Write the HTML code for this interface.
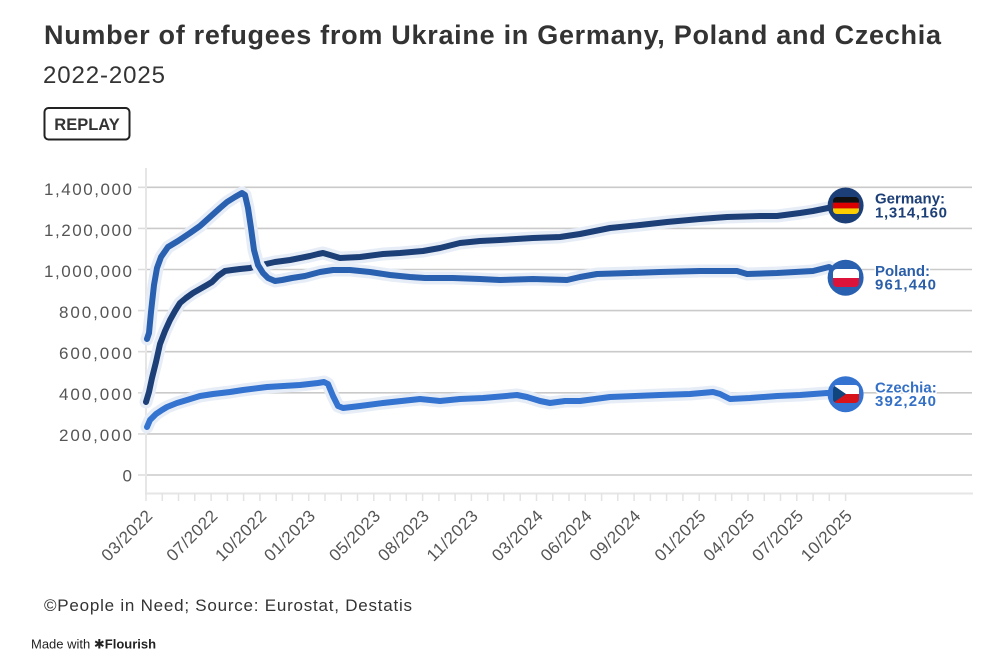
<!DOCTYPE html>
<html><head><meta charset="utf-8"><style>
html,body{margin:0;padding:0;background:#fff;}
svg{display:block;font-family:"Liberation Sans",sans-serif;}
</style></head><body>
<svg width="998" height="655" viewBox="0 0 998 655" xmlns="http://www.w3.org/2000/svg">
<defs>
<clipPath id="cg"><rect x="833" y="197" width="26" height="17" rx="4"/></clipPath>
<clipPath id="cp"><rect x="833" y="269" width="26" height="18" rx="4"/></clipPath>
<clipPath id="cc"><rect x="833" y="385" width="26" height="18" rx="4"/></clipPath>
</defs>
<!-- Title -->
<text x="44" y="44" font-size="27" font-weight="bold" fill="#333" textLength="897" lengthAdjust="spacing">Number of refugees from Ukraine in Germany, Poland and Czechia</text>
<text x="43" y="83" font-size="24" fill="#333" textLength="122" lengthAdjust="spacing">2022-2025</text>
<rect x="44.5" y="108" width="85" height="31.5" rx="4" fill="#fff" stroke="#222" stroke-width="2"/>
<text x="87" y="130" font-size="16.5" font-weight="bold" fill="#333" text-anchor="middle">REPLAY</text>

<!-- grid -->
<g stroke="#dcdcdc" stroke-width="1.6">
<path d="M138,187.3H146M138,228.4H146M138,269.5H146M138,310.6H146M138,351.7H146M138,392.8H146M138,433.9H146M138,475H146"/>
</g>
<g stroke="#cacaca" stroke-width="1.6">
<path d="M146,187.3H972M146,228.4H972M146,269.5H972M146,310.6H972M146,351.7H972M146,392.8H972M146,433.9H972M146,475H972"/>
</g>
<line x1="146" y1="168" x2="146" y2="494" stroke="#e6e6e6" stroke-width="2"/>
<line x1="145" y1="493.5" x2="973" y2="493.5" stroke="#e6e6e6" stroke-width="2"/>
<path stroke="#e3e3e3" stroke-width="1.5" d="M146,493V501M162.3,493V501M178.5,493V501M194.8,493V501M211.1,493V501M227.4,493V501M243.6,493V501M259.9,493V501M276.2,493V501M292.4,493V501M308.7,493V501M325,493V501M341.2,493V501M357.5,493V501M373.8,493V501M390.1,493V501M406.3,493V501M422.6,493V501M438.9,493V501M455.1,493V501M471.4,493V501M487.7,493V501M503.9,493V501M520.2,493V501M536.5,493V501M552.8,493V501M569,493V501M585.3,493V501M601.6,493V501M617.8,493V501M634.1,493V501M650.4,493V501M666.6,493V501M682.9,493V501M699.2,493V501M715.5,493V501M731.7,493V501M748,493V501M764.3,493V501M780.5,493V501M796.8,493V501M813.1,493V501M829.3,493V501M845.6,493V501"/>

<!-- y labels -->
<g font-size="17" fill="#555" text-anchor="end">
<text x="132" y="195" textLength="88" lengthAdjust="spacing">1,400,000</text>
<text x="132" y="236" textLength="88" lengthAdjust="spacing">1,200,000</text>
<text x="132" y="277" textLength="88" lengthAdjust="spacing">1,000,000</text>
<text x="132" y="318" textLength="73" lengthAdjust="spacing">800,000</text>
<text x="132" y="359" textLength="73" lengthAdjust="spacing">600,000</text>
<text x="132" y="400" textLength="73" lengthAdjust="spacing">400,000</text>
<text x="132" y="441" textLength="73" lengthAdjust="spacing">200,000</text>
<text x="132" y="481.5">0</text>
</g>

<!-- x labels -->
<g font-size="17" fill="#555" text-anchor="end">
<text transform="translate(153.5,517) rotate(-45)" textLength="64" lengthAdjust="spacing">03/2022</text>
<text transform="translate(218.6,517) rotate(-45)" textLength="64" lengthAdjust="spacing">07/2022</text>
<text transform="translate(267.4,517) rotate(-45)" textLength="64" lengthAdjust="spacing">10/2022</text>
<text transform="translate(316.2,517) rotate(-45)" textLength="64" lengthAdjust="spacing">01/2023</text>
<text transform="translate(381.3,517) rotate(-45)" textLength="64" lengthAdjust="spacing">05/2023</text>
<text transform="translate(430.1,517) rotate(-45)" textLength="64" lengthAdjust="spacing">08/2023</text>
<text transform="translate(478.9,517) rotate(-45)" textLength="64" lengthAdjust="spacing">11/2023</text>
<text transform="translate(544,517) rotate(-45)" textLength="64" lengthAdjust="spacing">03/2024</text>
<text transform="translate(592.8,517) rotate(-45)" textLength="64" lengthAdjust="spacing">06/2024</text>
<text transform="translate(641.6,517) rotate(-45)" textLength="64" lengthAdjust="spacing">09/2024</text>
<text transform="translate(706.7,517) rotate(-45)" textLength="64" lengthAdjust="spacing">01/2025</text>
<text transform="translate(755.5,517) rotate(-45)" textLength="64" lengthAdjust="spacing">04/2025</text>
<text transform="translate(804.3,517) rotate(-45)" textLength="64" lengthAdjust="spacing">07/2025</text>
<text transform="translate(853.1,517) rotate(-45)" textLength="64" lengthAdjust="spacing">10/2025</text>
</g>

<!-- series -->
<g fill="none" stroke-linejoin="round" stroke-linecap="round">
<path stroke="#e7edf7" stroke-width="13" d="M146,402 L149,392 L152,378 L156,362 L160,344 L165,331 L170,320 L175,311 L180,303 L186,298 L193,293 L200,289 L207,285 L212,282 L218,276 L225,271 L232,270 L240,269 L250,268 L257,266 L275,262 L290,260 L310,256 L318,254 L323,253 L330,255 L340,258 L360,257 L383,254 L400,253 L423,251 L440,248 L460,243 L480,241 L500,240 L533,238 L560,237 L580,234 L610,228 L640,225 L667,222 L700,219 L727,217 L760,216 L777,216 L800,213 L813,211 L833,207 L845.6,205"/>
<path stroke="#1d3f77" stroke-width="6" d="M146,402 L149,392 L152,378 L156,362 L160,344 L165,331 L170,320 L175,311 L180,303 L186,298 L193,293 L200,289 L207,285 L212,282 L218,276 L225,271 L232,270 L240,269 L250,268 L257,266 L275,262 L290,260 L310,256 L318,254 L323,253 L330,255 L340,258 L360,257 L383,254 L400,253 L423,251 L440,248 L460,243 L480,241 L500,240 L533,238 L560,237 L580,234 L610,228 L640,225 L667,222 L700,219 L727,217 L760,216 L777,216 L800,213 L813,211 L833,207 L845.6,205"/>

<path stroke="#e7edf7" stroke-width="13" d="M147,339 L149,333 L151,312 L154,285 L157,268 L161,257 L168,247 L178,241 L190,233 L200,226 L210,217 L220,208 L227,202 L235,197 L242,193 L245,195 L248,208 L251,228 L254,250 L258,265 L263,273 L268,278 L275,281 L282,280 L292,278 L305,276 L320,272 L333,270 L350,270 L370,272 L390,275 L410,277 L425,278 L453,278 L480,279 L500,280 L533,279 L567,280 L580,277 L597,274 L630,273 L660,272 L700,271 L727,271 L737,271 L747,274 L777,273 L813,271 L829,267 L845.6,277"/>
<path stroke="#2a60b0" stroke-width="6" d="M147,339 L149,333 L151,312 L154,285 L157,268 L161,257 L168,247 L178,241 L190,233 L200,226 L210,217 L220,208 L227,202 L235,197 L242,193 L245,195 L248,208 L251,228 L254,250 L258,265 L263,273 L268,278 L275,281 L282,280 L292,278 L305,276 L320,272 L333,270 L350,270 L370,272 L390,275 L410,277 L425,278 L453,278 L480,279 L500,280 L533,279 L567,280 L580,277 L597,274 L630,273 L660,272 L700,271 L727,271 L737,271 L747,274 L777,273 L813,271 L829,267 L845.6,277"/>

<path stroke="#e7edf7" stroke-width="13" d="M147,427 L150,420 L156,414 L162,410 L167,407 L177,403 L187,400 L200,396 L213,394 L230,392 L243,390 L267,387 L300,385 L318,383 L324,382 L328,384 L333,396 L338,406 L343,408 L360,406 L383,403 L420,399 L440,401 L460,399 L483,398 L517,395 L527,397 L540,401 L550,403 L565,401 L580,401 L610,397 L635,396 L660,395 L690,394 L713,392 L720,394 L730,399 L750,398 L777,396 L800,395 L827,393 L845.6,394"/>
<path stroke="#3473cf" stroke-width="6" d="M147,427 L150,420 L156,414 L162,410 L167,407 L177,403 L187,400 L200,396 L213,394 L230,392 L243,390 L267,387 L300,385 L318,383 L324,382 L328,384 L333,396 L338,406 L343,408 L360,406 L383,403 L420,399 L440,401 L460,399 L483,398 L517,395 L527,397 L540,401 L550,403 L565,401 L580,401 L610,397 L635,396 L660,395 L690,394 L713,392 L720,394 L730,399 L750,398 L777,396 L800,395 L827,393 L845.6,394"/>
</g>

<!-- flag markers -->
<circle cx="845.6" cy="205.5" r="18" fill="#1d3f77"/>
<g clip-path="url(#cg)">
<rect x="833" y="197" width="26" height="5.7" fill="#111"/>
<rect x="833" y="202.7" width="26" height="5.7" fill="#dd0000"/>
<rect x="833" y="208.4" width="26" height="5.7" fill="#ffce00"/>
</g>
<circle cx="845.6" cy="277.7" r="18" fill="#2a60b0"/>
<g clip-path="url(#cp)">
<rect x="833" y="269" width="26" height="9" fill="#fff"/>
<rect x="833" y="278" width="26" height="9" fill="#dc143c"/>
</g>
<circle cx="845.6" cy="394.2" r="18" fill="#3473cf"/>
<g clip-path="url(#cc)">
<rect x="833" y="385" width="26" height="9" fill="#fff"/>
<rect x="833" y="394" width="26" height="9" fill="#d7141a"/>
<path d="M833,385 L846,394 L833,403 Z" fill="#11457e"/>
</g>

<!-- legend labels -->
<g font-size="15" font-weight="bold" stroke="#fff" stroke-width="3" paint-order="stroke" stroke-linejoin="round">
<text x="875" y="203.5" fill="#1d3f77">Germany:</text>
<text x="875" y="217.7" fill="#1d3f77" textLength="72" lengthAdjust="spacing">1,314,160</text>
<text x="875" y="276" fill="#2a5ea8">Poland:</text>
<text x="875" y="289.5" fill="#2a5ea8" textLength="61" lengthAdjust="spacing">961,440</text>
<text x="875" y="392.7" fill="#3470c6">Czechia:</text>
<text x="875" y="406" fill="#3470c6" textLength="61" lengthAdjust="spacing">392,240</text>
</g>

<!-- footer -->
<text x="44" y="611" font-size="17" fill="#333" textLength="368" lengthAdjust="spacing">©People in Need; Source: Eurostat, Destatis</text>
<text x="31" y="648.5" font-size="13" fill="#222">Made with <tspan font-weight="bold" font-family="'DejaVu Sans',sans-serif">✱</tspan><tspan font-weight="bold">Flourish</tspan></text>
</svg>
</body></html>
